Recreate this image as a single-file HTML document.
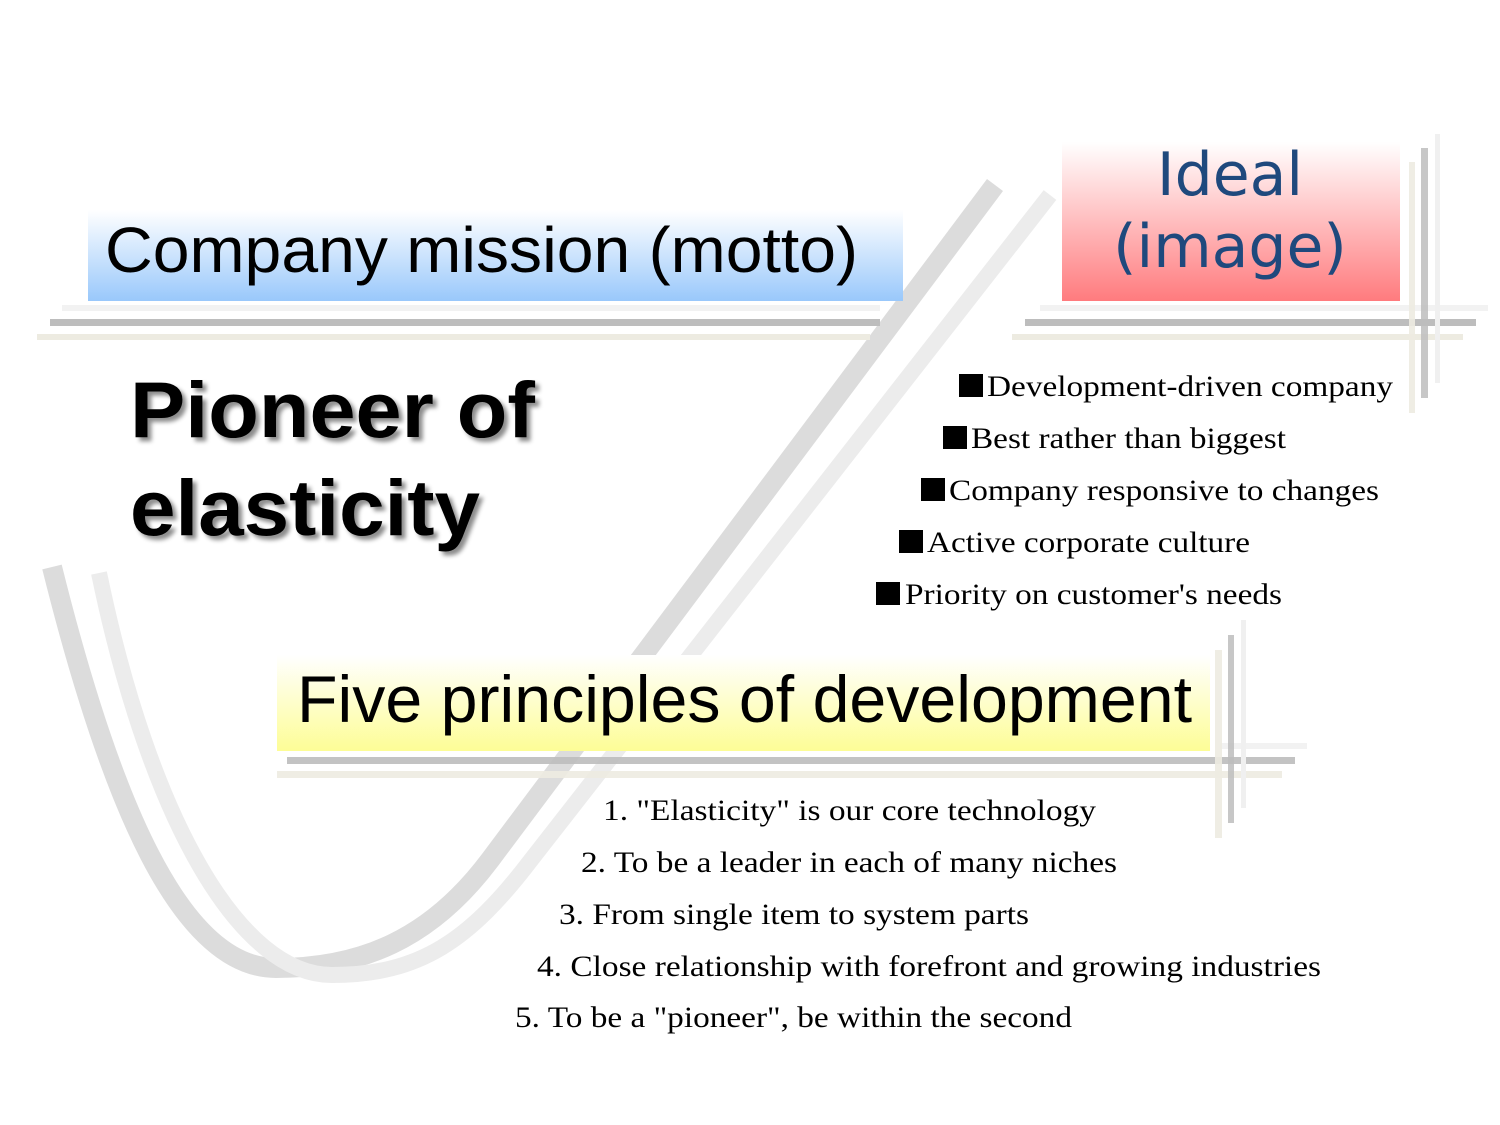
<!DOCTYPE html>
<html><head><meta charset="utf-8"><style>
html,body{margin:0;padding:0;background:#fff;}
svg{display:block;}
</style></head><body>
<svg width="1500" height="1125" viewBox="0 0 1500 1125" xmlns="http://www.w3.org/2000/svg">
<defs>
<linearGradient id="gb" x1="0" y1="0" x2="0" y2="1"><stop offset="0" stop-color="#ffffff"/><stop offset="1" stop-color="#99c8fb"/></linearGradient>
<linearGradient id="gp" x1="0" y1="0" x2="0" y2="1"><stop offset="0" stop-color="#ffffff"/><stop offset="1" stop-color="#ff7b7e"/></linearGradient>
<linearGradient id="gy" x1="0" y1="0" x2="0" y2="1"><stop offset="0" stop-color="#ffffff"/><stop offset="1" stop-color="#fdfd96"/></linearGradient>
<filter id="sh" x="-10%" y="-10%" width="130%" height="130%"><feDropShadow dx="4" dy="4" stdDeviation="2" flood-color="#000" flood-opacity="0.45"/></filter>
</defs>
<!-- curves -->
<path d="M52,567 C110,800 180,968 276,968 C360,968 430,940 490,860 L995,185" fill="none" stroke="#dcdcdc" stroke-width="20"/>
<path d="M99,573 C150,820 240,975 332,975 C420,975 470,940 531,860 L1050,195" fill="none" stroke="#ececec" stroke-width="16"/>

<!-- header boxes -->
<rect x="88" y="210" width="815" height="91" fill="url(#gb)"/>
<rect x="1062" y="142" width="338" height="159" fill="url(#gp)"/>
<rect x="277" y="655" width="933" height="96" fill="url(#gy)"/>

<!-- lines top left -->
<rect x="62" y="305" width="818" height="6" fill="#f2f2f2"/>
<rect x="50" y="319" width="830" height="7" fill="#bdbdbd"/>
<rect x="37" y="334" width="833" height="6" fill="#edebe1"/>
<!-- lines top right -->
<rect x="1040" y="305" width="448" height="6" fill="#f2f2f2"/>
<rect x="1025" y="319" width="451" height="7" fill="#bdbdbd"/>
<rect x="1012" y="334" width="451" height="6" fill="#edebe1"/>
<rect x="1409" y="162" width="6" height="251" fill="#edebe1" opacity="0.9"/>
<rect x="1421" y="148" width="7" height="250" fill="#bdbdbd" opacity="0.85"/>
<rect x="1435" y="134" width="5" height="249" fill="#f0f0f0"/>
<!-- lines bottom -->
<rect x="1220" y="743" width="87" height="6" fill="#f2f2f2"/>
<rect x="287" y="757" width="1008" height="7" fill="#bdbdbd" opacity="0.9"/>
<rect x="277" y="771" width="1005" height="7" fill="#edebe1" opacity="0.9"/>
<rect x="1215" y="650" width="7" height="188" fill="#edebe1" opacity="0.9"/>
<rect x="1228" y="635" width="6" height="188" fill="#bdbdbd" opacity="0.85"/>
<rect x="1241" y="620" width="5" height="188" fill="#f0f0f0"/>

<!-- header texts -->
<text x="105" y="272" font-family="Liberation Sans, sans-serif" font-size="64" textLength="753" lengthAdjust="spacingAndGlyphs" fill="#000">Company mission (motto)</text>
<text x="1230" y="195" text-anchor="middle" font-family="DejaVu Sans, sans-serif" font-size="60" fill="#1f497d">Ideal</text>
<text x="1230" y="267" text-anchor="middle" font-family="DejaVu Sans, sans-serif" font-size="60" fill="#1f497d">(image)</text>
<text x="297" y="722" font-family="Liberation Sans, sans-serif" font-size="66" textLength="895" lengthAdjust="spacingAndGlyphs" fill="#000">Five principles of development</text>

<!-- Pioneer -->
<g filter="url(#sh)" font-family="Liberation Sans, sans-serif" font-weight="bold" font-size="79" fill="#000">
<text x="130" y="437" textLength="405" lengthAdjust="spacingAndGlyphs">Pioneer of</text>
<text x="130" y="535" textLength="350" lengthAdjust="spacingAndGlyphs">elasticity</text>
</g>

<!-- bullets -->
<g font-family="Liberation Serif, serif" font-size="30" fill="#000">
<rect x="959" y="374" width="24" height="23"/><text x="987" y="396" textLength="406" lengthAdjust="spacingAndGlyphs">Development-driven company</text>
<rect x="943" y="426" width="24" height="23"/><text x="971" y="448" textLength="315" lengthAdjust="spacingAndGlyphs">Best rather than biggest</text>
<rect x="921" y="478" width="24" height="23"/><text x="949" y="500" textLength="430" lengthAdjust="spacingAndGlyphs">Company responsive to changes</text>
<rect x="899" y="530" width="24" height="23"/><text x="927" y="552" textLength="323" lengthAdjust="spacingAndGlyphs">Active corporate culture</text>
<rect x="876" y="582" width="24" height="23"/><text x="905" y="604" textLength="377" lengthAdjust="spacingAndGlyphs">Priority on customer's needs</text>
</g>

<!-- principles -->
<g font-family="Liberation Serif, serif" font-size="30" fill="#000">
<text x="603" y="820" textLength="493" lengthAdjust="spacingAndGlyphs">1. "Elasticity" is our core technology</text>
<text x="581" y="872" textLength="536" lengthAdjust="spacingAndGlyphs">2. To be a leader in each of many niches</text>
<text x="559" y="924" textLength="470" lengthAdjust="spacingAndGlyphs">3. From single item to system parts</text>
<text x="537" y="976" textLength="784" lengthAdjust="spacingAndGlyphs">4. Close relationship with forefront and growing industries</text>
<text x="515" y="1027" textLength="557" lengthAdjust="spacingAndGlyphs">5. To be a "pioneer", be within the second</text>
</g>
</svg>
</body></html>
